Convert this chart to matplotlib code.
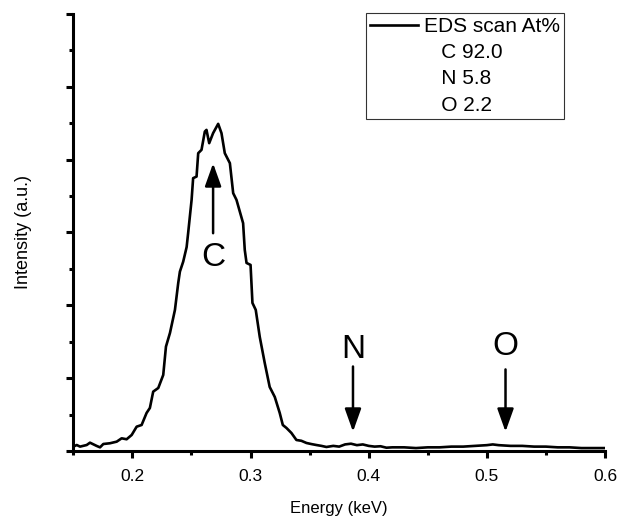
import matplotlib
matplotlib.use("Agg")
import matplotlib.pyplot as plt
from matplotlib.ticker import MultipleLocator, NullFormatter

plt.rcParams['font.family'] = ['Liberation Sans', 'DejaVu Sans']

# EDS spectrum (energy in keV, intensity in a.u.)
energy = [0.1500, 0.1529, 0.1557, 0.1613, 0.1641, 0.1698, 0.1726, 0.1754,
          0.1810, 0.1867, 0.1909, 0.1951, 0.1994, 0.2036, 0.2078, 0.2120,
          0.2148, 0.2176, 0.2219, 0.2261, 0.2284, 0.2318, 0.2360, 0.2388,
          0.2402, 0.2430, 0.2459, 0.2472, 0.2501, 0.2514, 0.2543, 0.2557,
          0.2585, 0.2613, 0.2627, 0.2650, 0.2683, 0.2726, 0.2754, 0.2782,
          0.2825, 0.2853, 0.2881, 0.2937, 0.2951, 0.2966, 0.3000, 0.3016,
          0.3044, 0.3078, 0.3120, 0.3162, 0.3205, 0.3247, 0.3273, 0.3304,
          0.3346, 0.3388, 0.3430, 0.3473, 0.3515, 0.3557, 0.3600, 0.3642,
          0.3700, 0.3750, 0.3800, 0.3850, 0.3900, 0.3950, 0.4000, 0.4050,
          0.4100, 0.4150, 0.4200, 0.4300, 0.4400, 0.4500, 0.4600, 0.4700,
          0.4800, 0.4900, 0.5000, 0.5050, 0.5100, 0.5150, 0.5200, 0.5300,
          0.5400, 0.5500, 0.5600, 0.5700, 0.5800, 0.5900, 0.6000]
intensity = [0.060, 0.082, 0.060, 0.082, 0.114, 0.069, 0.050, 0.096,
             0.106, 0.128, 0.174, 0.161, 0.220, 0.334, 0.357, 0.522,
             0.591, 0.815, 0.865, 1.044, 1.433, 1.621, 1.937, 2.308,
             2.463, 2.600, 2.800, 2.995, 3.448, 3.746, 3.768, 4.089,
             4.135, 4.386, 4.409, 4.227, 4.364, 4.492, 4.364, 4.089,
             3.952, 3.540, 3.448, 3.128, 2.761, 2.582, 2.555, 2.033,
             1.937, 1.566, 1.209, 0.879, 0.742, 0.522, 0.357, 0.316,
             0.247, 0.151, 0.140, 0.110, 0.095, 0.082, 0.070, 0.055,
             0.070, 0.060, 0.090, 0.100, 0.080, 0.090, 0.070, 0.060,
             0.065, 0.045, 0.050, 0.050, 0.040, 0.050, 0.050, 0.060,
             0.060, 0.070, 0.080, 0.090, 0.080, 0.075, 0.070, 0.070,
             0.060, 0.060, 0.050, 0.050, 0.040, 0.040, 0.040]

legend_lines = ["EDS scan At%", "   C 92.0", "   N 5.8", "   O 2.2"]

# peak markers: label, energy, arrow tail, arrow tip, label height
peaks = [("C", 0.2683, 2.99, 3.95, 2.65),
         ("N", 0.3867, 1.16, 0.265, 1.39),
         ("O", 0.5158, 1.12, 0.265, 1.43)]

fig = plt.figure(figsize=(6.23, 5.23), dpi=100)
ax = fig.add_axes([0.1177, 0.1377, 0.9711 - 0.1177, 0.9732 - 0.1377])

line, = ax.plot(energy, intensity, color='black', lw=1.9)

for name, x, tail, tip, ty in peaks:
    ax.annotate('', xy=(x, tip), xytext=(x, tail),
                arrowprops=dict(arrowstyle='-|>,head_length=0.7,head_width=0.25',
                                mutation_scale=20, color='black', lw=1.8,
                                shrinkA=0, shrinkB=0))
    ax.text(x, ty, name, fontsize=24, ha='center', va='center')

ax.set_xlim(0.15, 0.6)
ax.set_ylim(0, 6)
ax.xaxis.set_major_locator(MultipleLocator(0.1))
ax.xaxis.set_minor_locator(MultipleLocator(0.05))
ax.yaxis.set_major_locator(MultipleLocator(1))
ax.yaxis.set_minor_locator(MultipleLocator(0.5))
ax.yaxis.set_major_formatter(NullFormatter())

for s in ['top', 'right']:
    ax.spines[s].set_visible(False)
for s in ['left', 'bottom']:
    ax.spines[s].set_linewidth(2.2)

ax.tick_params(which='major', direction='out', length=5, width=2.2, labelsize=12.5, pad=8)
ax.tick_params(which='minor', direction='out', length=3, width=2.2)

ax.set_xlabel('Energy (keV)', fontsize=12, labelpad=12)
ax.set_ylabel('Intensity (a.u.)', fontsize=13, labelpad=17)

blank = [plt.Line2D([], [], color='none') for _ in range(3)]
leg = ax.legend([line] + blank, legend_lines, loc='upper right',
                bbox_to_anchor=(0.923, 1.002), borderaxespad=0,
                fontsize=15, frameon=True, fancybox=False,
                handlelength=2.3, handletextpad=0.3, borderpad=0.2,
                labelspacing=0.34)
leg.get_frame().set_edgecolor('black')
leg.get_frame().set_linewidth(0.8)

fig.savefig('out.png', dpi=100)
